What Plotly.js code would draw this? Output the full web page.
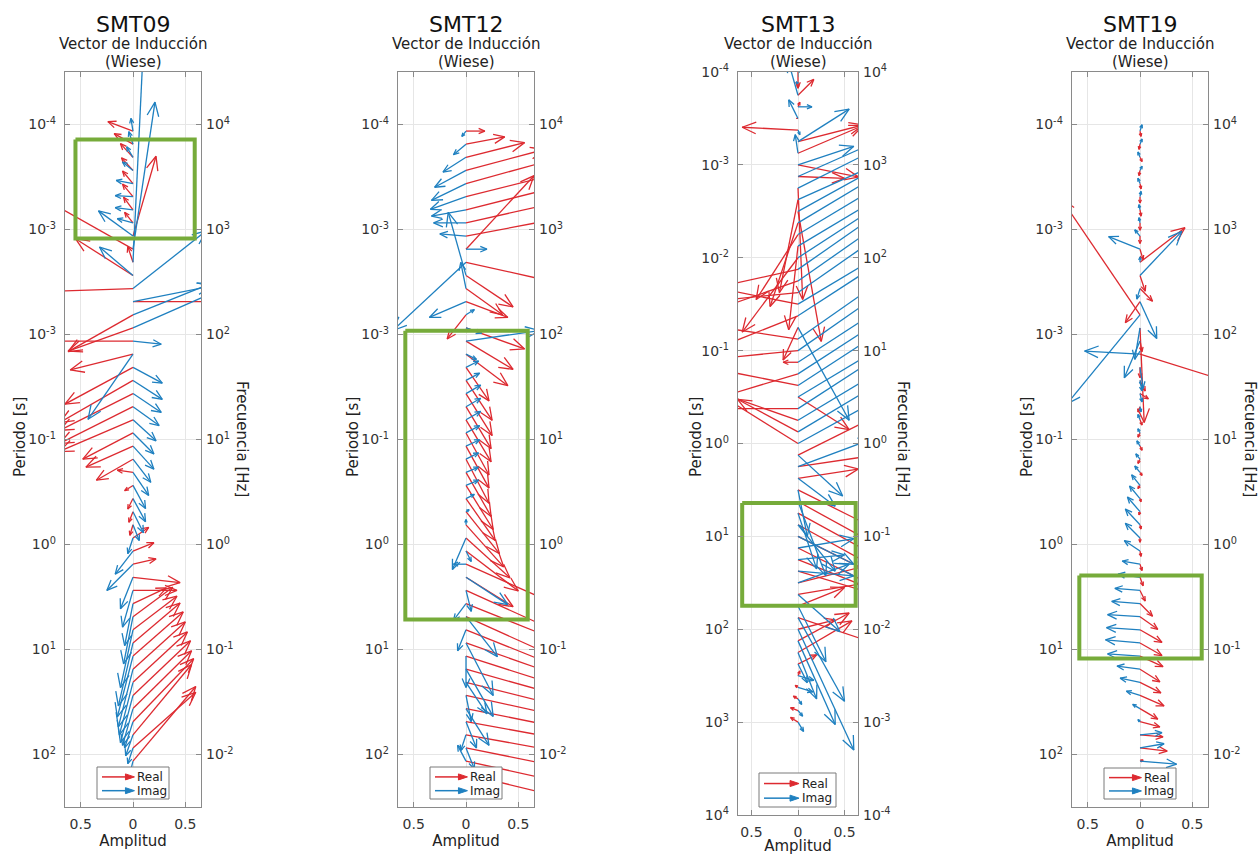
<!DOCTYPE html>
<html><head><meta charset="utf-8">
<script src="https://cdn.plot.ly/plotly-3.0.1.min.js"></script>
<style>html,body{margin:0;padding:0;background:#fff}#chart{width:1259px;height:855px}</style>
</head><body><div id="chart"></div>
<script>
// ---------------- DATA ----------------
const stationNames = ['SMT09', 'SMT12', 'SMT13', 'SMT19'];

// periods [s]
const smt09Period = [1.155e-4,1.540e-4,2.054e-4,2.738e-4,3.652e-4,4.870e-4,6.494e-4,8.660e-4,
  1.155e-3,1.540e-3,2.054e-3,2.738e-3,3.652e-3,4.870e-3,6.494e-3,8.660e-3,
  1.155e-2,1.540e-2,2.054e-2,2.738e-2,3.652e-2,4.870e-2,6.494e-2,8.660e-2,
  1.155e-1,1.540e-1,2.054e-1,2.738e-1,3.652e-1,4.870e-1,6.494e-1,8.660e-1,
  1.155,1.540,2.054,2.738,3.652,4.870,6.494,8.660,
  11.55,15.40,20.54,27.38,36.52,48.70,64.94,86.60,
  115.5,154.0];
const smt09RealU = [-0.24,-0.18,-0.12,-0.11,-0.10,-0.10,-0.09,-0.08, 0.22,-0.80,-0.05,-0.55,-0.90,0.90,-0.62,-0.62,
  -0.80,-0.60,-0.65,-0.70,-0.70,-0.70,-0.70,-0.48, -0.45,-0.35,-0.15,-0.08,-0.05,-0.04,-0.03,0.15,
  0.20,0.22,0.45,0.42,0.32,0.38,0.42,0.45, 0.48,0.50,0.52,0.55,0.56,0.58,0.56,0.60, 0.60,0.02];
const smt09RealV = [0.09,0.10,0.13,0.12,0.12,0.12,0.12,0.10, 0.76,0.45,0.15,0.35,-0.03,0.00,-0.35,-0.22,
  0.00,-0.15,-0.35,-0.40,-0.35,-0.35,-0.30,-0.25, -0.20,-0.20,0.02,-0.05,-0.10,-0.10,-0.10,0.10,
  0.08,0.05,-0.05,0.00,0.15,0.28,0.32,0.38, 0.42,0.45,0.48,0.52,0.55,0.60,0.67,0.53, 0.71,0.05];
const smt09ImagU = [-0.02,-0.04,-0.06,-0.10,-0.16,-0.17,-0.17,-0.15, -0.33,0.21,0.12,-0.32,0.70,0.75,0.75,0.80,
  0.27,-0.43,0.28,0.28,0.27,0.25,0.22,0.20, 0.20,0.17,0.15,0.12,0.12,0.10,0.06,-0.05,
  -0.17,-0.25,-0.12,-0.10,-0.08,-0.09,-0.12,-0.14, -0.15,-0.14,-0.13,-0.12,-0.10,-0.08,-0.07,-0.05, -0.03,-0.03];
const smt09ImagV = [0.12,0.12,0.10,0.08,0.03,0.01,0.02,0.04, 0.24,1.40,2.50,0.27,0.55,0.15,0.30,0.35,
  -0.03,-0.62,-0.15,-0.18,-0.18,-0.18,-0.20,-0.20, -0.22,-0.22,-0.22,-0.22,-0.22,-0.20,-0.15,-0.15,
  -0.22,-0.25,-0.30,-0.35,-0.40,-0.45,-0.55,-0.60, -0.58,-0.55,-0.50,-0.45,-0.35,-0.25,-0.20,-0.15, -0.12,-0.05];

const smt12Period = [1.155e-4,1.540e-4,2.054e-4,2.738e-4,3.652e-4,4.870e-4,6.494e-4,8.660e-4,
  1.155e-3,1.540e-3,2.054e-3,2.738e-3,3.652e-3,4.870e-3,6.494e-3,8.660e-3,
  1.155e-2,1.540e-2,2.054e-2,2.738e-2,3.652e-2,4.870e-2,6.494e-2,8.660e-2,
  1.155e-1,1.540e-1,2.054e-1,2.738e-1,3.652e-1,4.870e-1,6.494e-1,8.660e-1,
  1.155,1.540,2.054,2.738,3.652,4.870,6.494,8.660,
  11.55,15.40,20.54,27.38,36.52,48.70,64.94,86.60,
  115.5,154.0];
const smt12RealU = [0.18,0.37,0.56,0.75,0.80,0.80,0.80,0.80, 0.80,0.65,0.90,0.45,0.35,0.40,-0.18,0.56,
  0.45,0.40,0.22,0.25,0.25,0.24,0.24,0.22, 0.22,0.22,0.24,0.26,0.28,0.32,0.36,0.42,
  0.50,0.90,0.45,1.00,1.00,1.00,1.00,1.00, 1.00,1.00,1.00,1.00,1.00,1.00,1.00,1.00, 1.00,1.00];
const smt12RealV = [0.00,0.07,0.14,0.20,0.22,0.20,0.20,0.18, 0.15,0.70,-0.20,-0.30,-0.25,-0.15,-0.23,-0.20,
  -0.27,-0.30,-0.32,-0.38,-0.40,-0.40,-0.40,-0.40, -0.40,-0.42,-0.42,-0.42,-0.40,-0.40,-0.40,-0.38,
  -0.38,-0.40,-0.28,-0.45,-0.40,-0.45,-0.40,-0.35, -0.32,-0.28,-0.25,-0.22,-0.20,-0.18,-0.18,-0.20, -0.22,-0.24];
const smt12ImagU = [-0.04,-0.12,-0.22,-0.30,-0.33,-0.34,-0.33,-0.31, -0.25,0.20,-0.70,-0.17,-0.05,-0.35,0.08,0.15,
  0.70,0.10,0.12,0.13,0.14,0.14,0.14,0.13, 0.13,0.12,0.12,0.12,0.08,0.03,0.00,-0.13,
  0.05,-0.12,0.40,0.05,-0.12,0.30,-0.08,0.26, 0.00,0.26,0.20,0.05,0.22,0.10,-0.05,0.08, -0.08,0.10];
const smt12ImagV = [-0.05,-0.10,-0.14,-0.16,-0.16,-0.12,-0.06,0.00, 0.02,0.00,-0.65,0.60,0.25,-0.15,0.05,-0.05,
  0.10,-0.05,0.06,0.07,0.08,0.08,0.08,0.07, 0.06,0.06,0.05,0.05,0.04,0.02,0.05,-0.30,
  -0.10,0.00,-0.26,-0.20,-0.16,-0.38,-0.20,-0.50, -0.30,-0.45,-0.30,-0.25,-0.35,-0.25,-0.15,-0.20, 0.15,-0.10];

const smt13Period = [1.000e-4,1.334e-4,1.778e-4,2.371e-4,3.162e-4,4.217e-4,5.623e-4,7.499e-4,
  1.000e-3,1.334e-3,1.778e-3,2.371e-3,3.162e-3,4.217e-3,5.623e-3,7.499e-3,
  1.000e-2,1.334e-2,1.778e-2,2.371e-2,3.162e-2,4.217e-2,5.623e-2,7.499e-2,
  1.000e-1,1.334e-1,1.778e-1,2.371e-1,3.162e-1,4.217e-1,5.623e-1,7.499e-1,
  1.000,1.334,1.778,2.371,3.162,4.217,5.623,7.499,
  10.00,13.34,17.78,23.71,31.62,42.17,56.23,74.99,
  100.0,133.4,177.8,237.1,316.2,421.7,562.3,749.9,
  1000.0];
const smt13RealU = [0.00,0.00,0.17,0.02,-0.02,-0.60,0.70,0.70, 0.65,0.50,0.05,-0.20,0.25,-0.30,-0.45,-0.10,
  -0.60,-0.90,-1.00,-1.00,-1.00,-1.00,-0.16,-1.00, -1.00,-0.16,-1.00,-1.00,0.55,-1.00,-1.00,-0.65,
  -0.80,1.00,1.00,0.65,1.00,1.00,1.00,1.00, 1.00,1.00,1.00,1.00,0.80,0.90,0.50,0.90,
  0.40,0.55,0.58,0.20,0.02,-0.03,-0.05,-0.08, -0.08];
const smt13RealV = [-0.17,-0.05,0.17,0.05,0.00,0.03,0.18,0.30, -0.13,-0.02,-1.20,-1.00,-1.40,-0.90,-0.70,-0.90,
  -0.80,-0.20,-0.35,-0.10,0.20,-0.40,-0.35,0.15, -0.10,0.00,-0.30,0.20,-0.35,0.00,0.35,0.35,
  0.50,0.50,0.15,0.10,-0.50,-0.55,-0.55,-0.55, -0.50,-0.50,-0.40,-0.30,0.20,0.15,0.20,-0.30,
  0.10,0.30,0.34,0.10,0.05,0.02,0.03,0.03, 0.05];
const smt13ImagU = [0.02,-0.02,-0.10,0.15,-0.10,0.02,0.55,-0.03, 0.60,0.90,0.90,1.00,1.00,1.00,1.00,1.00,
  1.00,1.00,1.00,1.00,1.00,1.00,0.55,1.00, 1.00,1.00,1.00,1.00,1.00,1.00,1.00,1.00,
  1.00,0.48,0.80,0.40,0.10,0.30,0.20,0.40, 0.60,0.60,0.50,0.60,0.55,0.45,0.30,0.50,
  0.60,0.40,0.20,0.10,0.17,0.16,0.04,0.05, 0.06];
const smt13ImagV = [0.00,0.02,0.35,0.00,0.20,-0.05,0.35,0.20, 0.20,0.40,0.45,0.45,0.55,0.60,0.60,0.60,
  0.65,0.70,0.70,0.70,0.60,0.65,-1.00,0.70, 0.70,0.65,0.65,0.65,0.60,0.65,0.60,0.60,
  0.55,-0.44,0.30,-0.30,-0.50,-0.80,-0.60,-0.50, -0.30,0.10,0.05,-0.05,0.20,-0.40,-0.60,-0.90,
  -1.30,-0.90,-0.50,-0.20,-0.05,-0.05,-0.06,-0.06, -0.10];

const smt19Period = [1.155e-4,1.540e-4,2.054e-4,2.738e-4,3.652e-4,4.870e-4,6.494e-4,8.660e-4,
  1.155e-3,1.540e-3,2.054e-3,2.738e-3,3.652e-3,4.870e-3,6.494e-3,8.660e-3,
  1.155e-2,1.540e-2,2.054e-2,2.738e-2,3.652e-2,4.870e-2,6.494e-2,8.660e-2,
  1.155e-1,1.540e-1,2.054e-1,2.738e-1,3.652e-1,4.870e-1,6.494e-1,8.660e-1,
  1.155,1.540,2.054,2.738,3.652,4.870,6.494,8.660,
  11.55,15.40,20.54,27.38,36.52,48.70,64.94,86.60,
  115.5];
const smt19RealU = [0.01,-0.01,0.02,-0.01,0.01,0.00,0.01,0.00, 0.00,0.03,0.43,0.05,0.12,-0.14,-0.75,0.04,
  0.02,0.90,0.00,0.05,0.08,-0.02,0.02,-0.02, 0.02,-0.02,0.02,-0.02,0.01,-0.01,0.01,0.00,
  0.01,0.02,0.03,0.05,0.12,0.17,0.21,0.21, 0.22,0.19,0.20,0.23,0.17,0.19,0.22,0.26, 0.03];
const smt19RealV = [-0.05,-0.05,-0.04,-0.05,-0.05,-0.06,-0.06,-0.07, -0.07,-0.10,0.33,-0.15,-0.12,-0.20,1.10,-0.90,
  -0.10,-0.28,-0.10,-0.10,-0.05,-0.05,-0.05,-0.04, -0.04,-0.04,-0.03,-0.03,-0.03,-0.03,-0.04,-0.04,
  -0.05,-0.06,-0.08,-0.10,-0.12,-0.12,-0.12,-0.12, -0.10,-0.12,-0.10,-0.10,-0.10,-0.05,-0.02,-0.03, 0.01];
const smt19ImagU = [0.02,0.02,-0.02,0.02,-0.02,0.01,-0.01,-0.01, -0.05,-0.30,0.00,0.40,-0.03,0.16,-0.70,-0.05,
  -0.15,-0.53,0.03,0.02,0.02,0.01,-0.02,-0.02, -0.03,-0.04,-0.05,-0.08,-0.10,-0.12,-0.14,-0.14,
  -0.15,-0.17,-0.21,-0.24,-0.27,-0.31,-0.32,-0.33, -0.31,-0.22,-0.19,-0.13,-0.07,-0.02,0.21,0.23, 0.35];
const smt19ImagV = [0.06,0.05,0.05,0.04,0.05,0.05,0.05,0.05, 0.06,0.12,0.05,0.42,-0.10,-0.35,-0.85,-0.30,
  -0.35,0.03,-0.20,-0.10,-0.08,-0.05,0.05,0.04, 0.05,0.05,0.06,0.10,0.12,0.14,0.15,0.14,
  0.10,0.03,0.03,0.02,0.02,0.02,0.02,0.03, 0.02,0.03,0.04,0.04,0.04,0.02,0.02,0.04, -0.03];

// highlighted zones (green boxes): [amp0, amp1, period0, period1]
const highlightZones = [
  [-0.55, 0.59, 1.39e-4, 1.22e-3],
  [-0.58, 0.59, 9.2e-3, 5.18],
  [-0.60, 0.62, 4.36, 56.0],
  [-0.58, 0.59, 1.97, 12.2]
];

const leftTickText6 = ['10<sup>-4</sup>','10<sup>-3</sup>','10<sup>-3</sup>','10<sup>-1</sup>','10<sup>0</sup>','10<sup>1</sup>','10<sup>2</sup>'];
const rightTickText6 = ['10<sup>4</sup>','10<sup>3</sup>','10<sup>2</sup>','10<sup>1</sup>','10<sup>0</sup>','10<sup>-1</sup>','10<sup>-2</sup>'];
const leftTickText8 = ['10<sup>-4</sup>','10<sup>-3</sup>','10<sup>-2</sup>','10<sup>-1</sup>','10<sup>0</sup>','10<sup>1</sup>','10<sup>2</sup>','10<sup>3</sup>','10<sup>4</sup>'];
const rightTickText8 = ['10<sup>4</sup>','10<sup>3</sup>','10<sup>2</sup>','10<sup>1</sup>','10<sup>0</sup>','10<sup>-1</sup>','10<sup>-2</sup>','10<sup>-3</sup>','10<sup>-4</sup>'];
const xTickText = ['0.5','0','0.5'];

// ---------------- LAYOUT GEOMETRY ----------------
const W = 1259, H = 855;
const FONT = 'DejaVu Sans, Arial, sans-serif';
const RED = '#dd2a30', BLUE = '#1f80c0', GREEN = '#76ab3a';

const panels = [
  {name:'SMT09', px:[65,201], py:[72,807], xr:[-0.65,0.65], yr:[-4.5,2.5], ticks:6, freqTitle:true, standoff:2,
   data:[smt09Period,smt09RealU,smt09RealV,smt09ImagU,smt09ImagV], perX:20, freqX:242, legend:[97,767,169,799]},
  {name:'SMT12', px:[398,534], py:[72,807], xr:[-0.65,0.65], yr:[-4.5,2.5], ticks:6, freqTitle:false, standoff:2,
   data:[smt12Period,smt12RealU,smt12RealV,smt12ImagU,smt12ImagV], perX:353, freqX:0, legend:[430,767,502,799]},
  {name:'SMT13', px:[738,858], py:[72,815], xr:[-0.645,0.645], yr:[-4,4], ticks:8, freqTitle:true, standoff:4,
   data:[smt13Period,smt13RealU,smt13RealV,smt13ImagU,smt13ImagV], perX:696, freqX:903, legend:[759,773,836,807]},
  {name:'SMT19', px:[1072,1208], py:[72,807], xr:[-0.65,0.65], yr:[-4.5,2.5], ticks:6, freqTitle:true, standoff:2,
   data:[smt19Period,smt19RealU,smt19RealV,smt19ImagU,smt19ImagV], perX:1027, freqX:1250, legend:[1104,768,1176,799]}
];

const fx = p => p / W, fy = p => 1 - p / H;

function arrowPaths(periods, U, V, sx, sy) {
  const xs = [], ys = [];
  const n = Math.min(periods.length, U.length, V.length);
  for (let i = 0; i < n; i++) {
    const l0 = Math.log10(periods[i]);
    const u = U[i], v = V[i];
    const tl = l0 - v;
    xs.push(0, u, null); ys.push(periods[i], Math.pow(10, tl), null);
    const dxp = u * sx, dyp = v * sy, L = Math.hypot(dxp, dyp);
    if (L < 2) continue;
    const h = Math.min(0.25 * L + 2, 15), a = Math.atan2(dyp, dxp);
    const a1 = a + 0.4, a2 = a - 0.4;
    xs.push(u - h * Math.cos(a1) / sx, u, u - h * Math.cos(a2) / sx, null);
    ys.push(Math.pow(10, tl + h * Math.sin(a1) / sy), Math.pow(10, tl), Math.pow(10, tl + h * Math.sin(a2) / sy), null);
  }
  return {x: xs, y: ys};
}

const traces = [];
const layout = {
  width: W, height: H, margin: {l:0, r:0, t:0, b:0},
  paper_bgcolor: '#fff', plot_bgcolor: '#fff', showlegend: false,
  font: {family: FONT, color: '#262626'},
  annotations: [], shapes: []
};

panels.forEach((p, k) => {
  const xn = k === 0 ? 'x' : 'x' + (k + 1);
  const yl = 2 * k + 1 === 1 ? 'y' : 'y' + (2 * k + 1);
  const yrn = 'y' + (2 * k + 2);
  const xKey = 'xaxis' + (k === 0 ? '' : k + 1);
  const ylKey = 'yaxis' + (2 * k + 1 === 1 ? '' : 2 * k + 1);
  const yrKey = 'yaxis' + (2 * k + 2);

  const sx = (p.px[1] - p.px[0]) / (p.xr[1] - p.xr[0]);
  const sy = (p.py[1] - p.py[0]) / (p.yr[1] - p.yr[0]);
  const [per, rU, rV, iU, iV] = p.data;

  const red = arrowPaths(per, rU, rV, sx, sy);
  const blue = arrowPaths(per, iU, iV, sx, sy);
  traces.push({type:'scatter', mode:'lines', x: red.x, y: red.y, xaxis: xn, yaxis: yl,
    line:{color: RED, width: 1.3}, hoverinfo:'skip', name:'Real'});
  traces.push({type:'scatter', mode:'lines', x: blue.x, y: blue.y, xaxis: xn, yaxis: yl,
    line:{color: BLUE, width: 1.3}, hoverinfo:'skip', name:'Imag'});

  const z = highlightZones[k];
  traces.push({type:'scatter', mode:'lines', x:[z[0], z[1], z[1], z[0], z[0]], y:[z[2], z[2], z[3], z[3], z[2]],
    xaxis: xn, yaxis: yl, line:{color: GREEN, width: 4}, hoverinfo:'skip'});

  // frequency axis (1/period) on the right: an empty trace makes the overlay axis render
  traces.push({type:'scatter', mode:'lines', x:[null], y:[null], xaxis: xn, yaxis: yrn, hoverinfo:'skip',
    line:{color:'rgba(0,0,0,0)'}});

  const decs = p.ticks === 6 ? [-4,-3,-2,-1,0,1,2] : [-4,-3,-2,-1,0,1,2,3,4];
  const ltv = decs.map(d => Math.pow(10, d));
  const rtv = decs.map(d => Math.pow(10, -d));

  layout[xKey] = {
    domain: [fx(p.px[0]), fx(p.px[1])], anchor: yl, range: p.xr,
    tickvals: [-0.5, 0, 0.5], ticktext: xTickText, tickmode: 'array',
    ticks: 'inside', ticklen: 5, tickcolor: '#8a8a8a', showline: true, linecolor: '#8a8a8a', linewidth: 1.3,
    mirror: 'ticks', showgrid: true, gridcolor: '#e6e6e6', gridwidth: 1, zeroline: false,
    tickfont: {size: 14, color: '#333', family: FONT}, ticklabelstandoff: 4,
    title: {text: 'Amplitud', font: {size: 15, color: '#222', family: FONT}, standoff: p.standoff}
  };
  layout[ylKey] = {
    domain: [fy(p.py[1]), fy(p.py[0])], anchor: xn, type: 'log', range: [p.yr[1], p.yr[0]],
    tickvals: ltv, ticktext: p.ticks === 6 ? leftTickText6 : leftTickText8, tickmode: 'array',
    ticks: 'inside', ticklen: 5, tickcolor: '#8a8a8a', showline: true, linecolor: '#8a8a8a', linewidth: 1.3,
    mirror: 'ticks', showgrid: true, gridcolor: '#e6e6e6', gridwidth: 1, zeroline: false,
    tickfont: {size: 14, color: '#333', family: FONT}, ticklabelstandoff: 5
  };
  layout[yrKey] = {
    overlaying: yl, anchor: xn, side: 'right', type: 'log', range: [-p.yr[1], -p.yr[0]], autorange: false,
    tickvals: rtv, ticktext: p.ticks === 6 ? rightTickText6 : rightTickText8, tickmode: 'array',
    ticks: '', showline: false, showgrid: false, zeroline: false, showticklabels: true,
    tickfont: {size: 14, color: '#333', family: FONT}, ticklabelstandoff: 4
  };

  const cx = (p.px[0] + p.px[1]) / 2;
  layout.annotations.push({xref:'paper', yref:'paper', x: fx(cx), y: fy(25), text: p.name, showarrow:false,
    xanchor:'center', yanchor:'middle', font:{size: 22, color:'#111', family: FONT}});
  layout.annotations.push({xref:'paper', yref:'paper', x: fx(cx), y: fy(44), text: 'Vector de Inducción', showarrow:false,
    xanchor:'center', yanchor:'middle', font:{size: 15, color:'#222', family: FONT}});
  layout.annotations.push({xref:'paper', yref:'paper', x: fx(cx), y: fy(62), text: '(Wiese)', showarrow:false,
    xanchor:'center', yanchor:'middle', font:{size: 15, color:'#222', family: FONT}});
  layout.annotations.push({xref:'paper', yref:'paper', x: fx(p.perX), y: fy(437), text: 'Periodo [s]', showarrow:false,
    textangle: -90, xanchor:'center', yanchor:'middle', font:{size: 15, color:'#222', family: FONT}});
  if (p.freqTitle) {
    layout.annotations.push({xref:'paper', yref:'paper', x: fx(p.freqX), y: fy(439), text: 'Frecuencia [Hz]', showarrow:false,
      textangle: 90, xanchor:'center', yanchor:'middle', font:{size: 15, color:'#222', family: FONT}});
  }

  // legend box
  const [bx0, by0, bx1, by1] = p.legend;
  const rowH = (by1 - by0);
  const r1 = by0 + rowH * 0.31, r2 = by0 + rowH * 0.74;
  const ax0 = bx0 + 5, ax1 = bx0 + (bx1 - bx0) * 0.52;
  layout.shapes.push({type:'rect', xref:'paper', yref:'paper', x0: fx(bx0), x1: fx(bx1), y0: fy(by1), y1: fy(by0),
    fillcolor:'#fff', line:{color:'#7a7a7a', width:1}, layer:'above'});
  [[r1, RED, 'Real'], [r2, BLUE, 'Imag']].forEach(([ry, col, lab]) => {
    layout.shapes.push({type:'line', xref:'paper', yref:'paper', x0: fx(ax0), x1: fx(ax1 - 4), y0: fy(ry), y1: fy(ry),
      line:{color: col, width: 1.5}, layer:'above'});
    layout.shapes.push({type:'path', xref:'paper', yref:'paper', layer:'above', fillcolor: col, line:{color: col, width: 1},
      path: `M ${fx(ax1)} ${fy(ry)} L ${fx(ax1 - 9)} ${fy(ry - 3)} L ${fx(ax1 - 9)} ${fy(ry + 3)} Z`});
    layout.annotations.push({xref:'paper', yref:'paper', x: fx(ax1 + 1), y: fy(ry), text: lab, showarrow:false,
      xanchor:'left', yanchor:'middle', font:{size: 12, color:'#222', family: FONT}});
  });
});

Plotly.newPlot('chart', traces, layout, {displayModeBar: false, staticPlot: true});
</script>
</body></html>
